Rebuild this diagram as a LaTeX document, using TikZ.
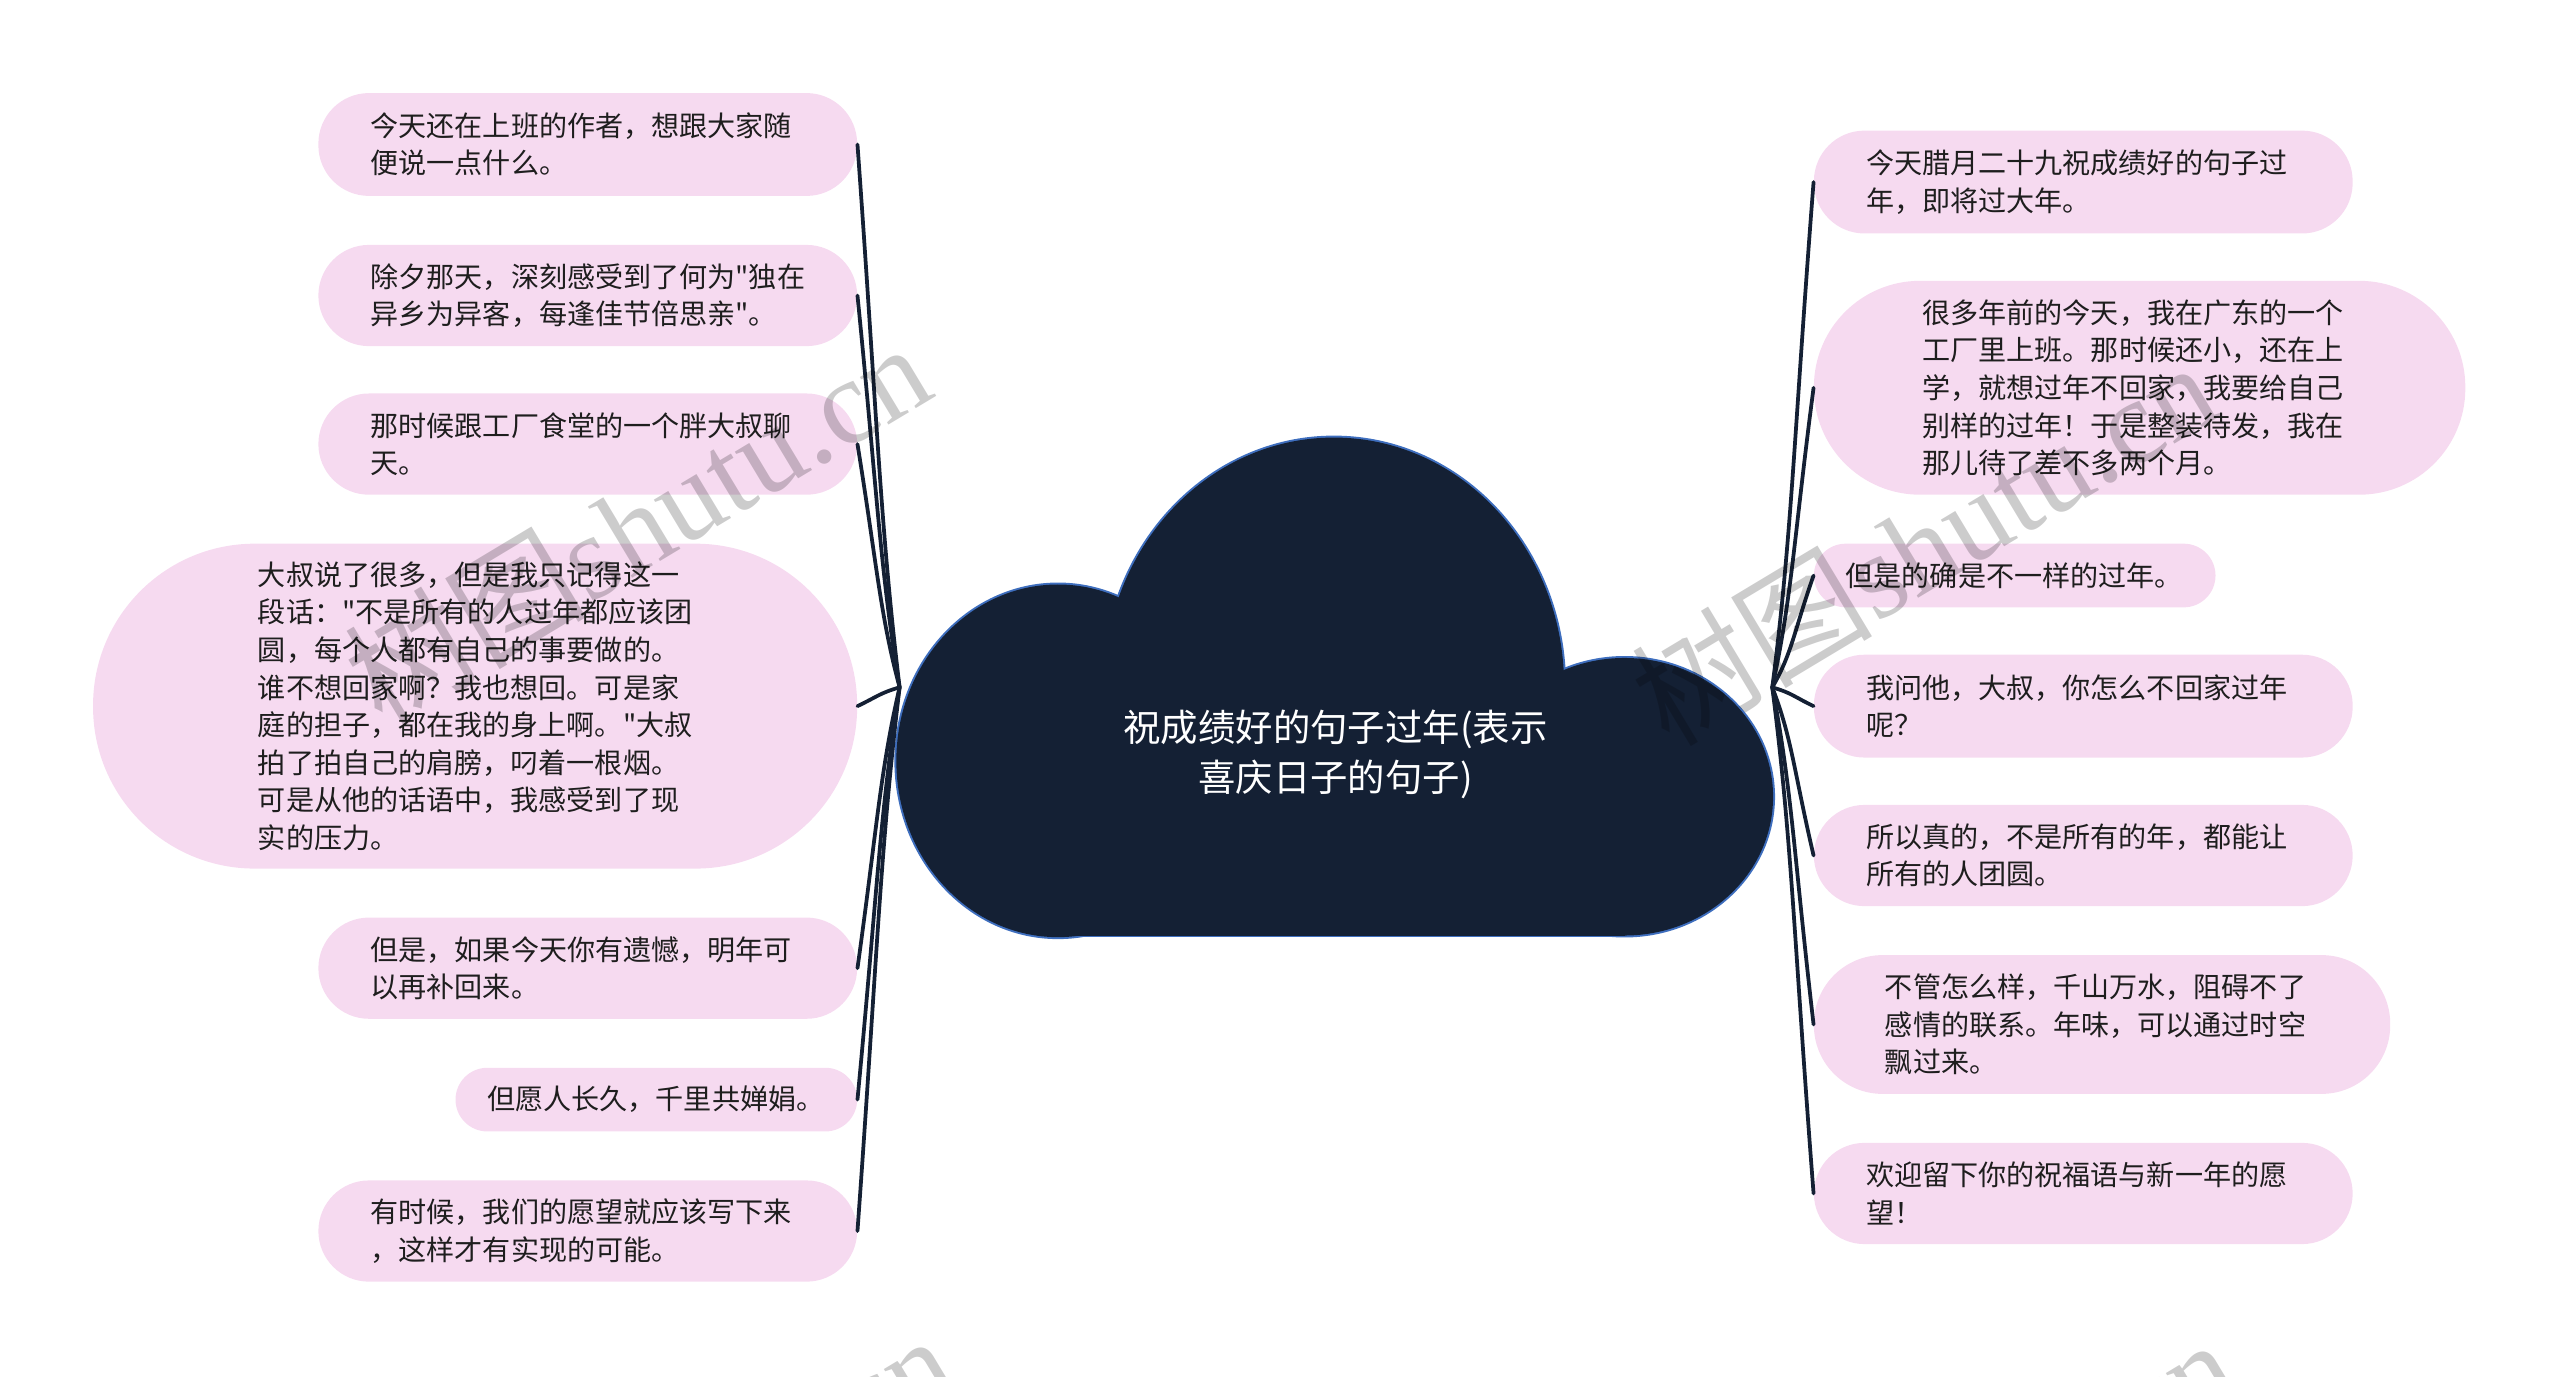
\documentclass[tikz,border=0pt]{standalone}
\usepackage{fontspec}
\setmainfont{Noto Sans CJK SC}[Ligatures=TeXOff]
\newfontfamily\wmserif{Liberation Serif}
\usetikzlibrary{calc}
\definecolor{pinkfill}{RGB}{246,218,240}
\definecolor{navy}{RGB}{20,32,52}
\definecolor{cloudedge}{RGB}{62,110,190}
\definecolor{txt}{RGB}{30,30,30}
\begin{document}
\begin{tikzpicture}[x=1pt,y=-1pt,
  leaf/.style={fill=pinkfill, inner sep=0pt, align=left, text width=266pt, text=txt, font=\fontsize{17.2}{23}\selectfont},
  conn/.style={draw=navy, line width=2.3pt, line cap=round},
  cloudrim/.style={draw=cloudedge, line width=2.4pt, line join=round},
  wm/.style={rotate=31, text=black, opacity=0.2, font=\fontsize{74}{74}\selectfont}]
\path[use as bounding box] (0,0) rectangle (1568,843.4);
\clip (0,0) rectangle (1568,843.4);

% cloud
\draw[cloudrim] (817,420) ellipse [x radius=141, y radius=152];
\draw[cloudrim] (648,466) ellipse [x radius=99, y radius=108];
\draw[cloudrim] (995,488) ellipse [x radius=91, y radius=85];
\draw[cloudrim] (648,466) rectangle (995,573);
\fill[navy] (817,420) ellipse [x radius=141, y radius=152];
\fill[navy] (648,466) ellipse [x radius=99, y radius=108];
\fill[navy] (995,488) ellipse [x radius=91, y radius=85];
\fill[navy] (648,466) rectangle (995,573);
\node[text=white, align=center, font=\fontsize{22.9}{31}\selectfont] (title) at (818,462) {祝成绩好的句子过年(表示\\喜庆日子的句子)};

\coordinate (rootL) at (551,421);
\coordinate (rootR) at (1085.5,421);

% left nodes
\node[leaf, minimum width=330, minimum height=63, rounded corners=31] (L1) at (360,88.5) {今天还在上班的作者，想跟大家随\\便说一点什么。};
\node[leaf, minimum width=330, minimum height=62, rounded corners=31] (L2) at (360,181) {除夕那天，深刻感受到了何为"独在\\异乡为异客，每逢佳节倍思亲"。};
\node[leaf, minimum width=330, minimum height=62, rounded corners=31] (L3) at (360,272) {那时候跟工厂食堂的一个胖大叔聊\\天。};
\node[leaf, minimum width=468, minimum height=199, rounded corners=99] (L4) at (291,432.5) {大叔说了很多，但是我只记得这一\\段话："不是所有的人过年都应该团\\圆，每个人都有自己的事要做的。\\谁不想回家啊？我也想回。可是家\\庭的担子，都在我的身上啊。"大叔\\拍了拍自己的肩膀，叼着一根烟。\\可是从他的话语中，我感受到了现\\实的压力。};
\node[leaf, minimum width=330, minimum height=62, rounded corners=31] (L5) at (360,593) {但是，如果今天你有遗憾，明年可\\以再补回来。};
\node[leaf, text width=207pt, minimum width=246, minimum height=39, rounded corners=19.5] (L6) at (402,673.5) {但愿人长久，千里共婵娟。};
\node[leaf, minimum width=330, minimum height=62, rounded corners=31] (L7) at (360,754) {有时候，我们的愿望就应该写下来\\，这样才有实现的可能。};

% right nodes
\node[leaf, minimum width=330, minimum height=63, rounded corners=31] (R1) at (1276,111.5) {今天腊月二十九祝成绩好的句子过\\年，即将过大年。};
\node[leaf, minimum width=399, minimum height=131, rounded corners=65] (R2) at (1310.5,237.5) {很多年前的今天，我在广东的一个\\工厂里上班。那时候还小，还在上\\学，就想过年不回家，我要给自己\\别样的过年！于是整装待发，我在\\那儿待了差不多两个月。};
\node[leaf, text width=207pt, minimum width=246, minimum height=39, rounded corners=19.5] (R3) at (1234,352.5) {但是的确是不一样的过年。};
\node[leaf, minimum width=330, minimum height=63, rounded corners=31] (R4) at (1276,432.5) {我问他，大叔，你怎么不回家过年\\呢？};
\node[leaf, minimum width=330, minimum height=62, rounded corners=31] (R5) at (1276,524) {所以真的，不是所有的年，都能让\\所有的人团圆。};
\node[leaf, minimum width=353, minimum height=85, rounded corners=42] (R6) at (1287.5,627.5) {不管怎么样，千山万水，阻碍不了\\感情的联系。年味，可以通过时空\\飘过来。};
\node[leaf, minimum width=330, minimum height=62, rounded corners=31] (R7) at (1276,731) {欢迎留下你的祝福语与新一年的愿\\望！};

% connectors
\foreach \nd in {L1,L2,L3,L4,L5,L6,L7}
  \draw[conn] let \p1=(rootL), \p2=(\nd.east) in
    (\p1) .. controls (\x1-12, {\y1+0.3*(\y2-\y1)}) and (\x2+12, {\y2+0.5*(\y1-\y2)}) .. (\p2);
\foreach \nd in {R1,R2,R3,R4,R5,R6,R7}
  \draw[conn] let \p1=(rootR), \p2=(\nd.west) in
    (\p1) .. controls (\x1+12, {\y1+0.3*(\y2-\y1)}) and (\x2-12, {\y2+0.5*(\y1-\y2)}) .. (\p2);

% watermarks
\node[wm] (wm1) at (390,320) {树图{\wmserif shutu.cn}};
\node[wm] (wm2) at (1178,332) {树图{\wmserif shutu.cn}};
\node[wm] (wm3) at (405,928) {树图{\wmserif shutu.cn}};
\node[wm] (wm4) at (1190,930) {树图{\wmserif shutu.cn}};
\end{tikzpicture}
\end{document}
